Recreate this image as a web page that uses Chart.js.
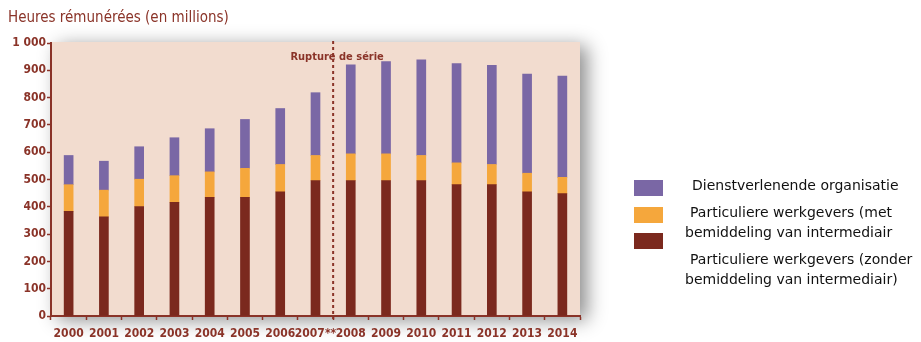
<!DOCTYPE html>
<html>
<head>
<meta charset="utf-8">
<script src="https://cdn.jsdelivr.net/npm/chart.js@4"></script>
<style>
  html, body { margin: 0; padding: 0; background: #fff; }
  #wrap { width: 921px; height: 342px; position: relative; }
</style>
</head>
<body>
<div id="wrap"><canvas id="myChart" width="921" height="342"></canvas></div>
<script>
const ctx = document.getElementById('myChart')

const years = ['2000', '2001', '2002', '2003', '2004', '2005', '2006', '2007**', '2008', '2009', '2010', '2011', '2012', '2013', '2014']
const zonderData = [383, 363, 401, 416, 435, 435, 455, 496, 496, 496, 496, 481, 481, 455, 448]
const metData = [98, 98, 100, 98, 93, 106, 100, 92, 98, 98, 92, 80, 74, 68, 60]
const dienstData = [107, 106, 119, 139, 158, 179, 205, 230, 326, 338, 350, 364, 363, 363, 371]
const yTicks = [0, 100, 200, 300, 400, 500, 600, 700, 800, 900, 1000]

const titleText = 'Heures rémunérées (en millions)'
const breakText = 'Rupture de série'
const breakAfter = 7  // index of 2007**

const red = '#8a3328'
const narrow = "'DejaVu Sans Condensed', sans-serif"

// beige plot area with a soft drop shadow, title, series break and legend
const decor = {
    id: 'decor',
    beforeDraw(chart) {
        const {ctx, chartArea: a} = chart
        ctx.save()
        ctx.shadowColor = 'rgba(0,0,0,0.45)'
        ctx.shadowBlur = 18
        ctx.shadowOffsetX = 7
        ctx.shadowOffsetY = 4
        ctx.fillStyle = '#f2dccf'
        ctx.fillRect(a.left, a.top - 1, a.right - a.left, a.bottom - a.top + 1)
        ctx.restore()

        ctx.save()
        ctx.fillStyle = red
        ctx.font = `15px ${narrow}`
        ctx.textBaseline = 'middle'
        ctx.fillText(titleText, 8, 18)
        ctx.restore()
    },
    afterDatasetsDraw(chart) {
        const {ctx, chartArea: a, scales: {x}} = chart
        const bx = x.getPixelForValue(breakAfter + 0.5)
        ctx.save()
        ctx.strokeStyle = red
        ctx.lineWidth = 2
        ctx.setLineDash([3, 3])
        ctx.beginPath()
        ctx.moveTo(bx, a.top - 2)
        ctx.lineTo(bx, a.bottom + 3)
        ctx.stroke()
        ctx.setLineDash([])
        ctx.fillStyle = red
        ctx.font = `bold 11px ${narrow}`
        ctx.textAlign = 'center'
        ctx.textBaseline = 'middle'
        ctx.fillText(breakText, bx + 4, 57)
        ctx.restore()
    },
    afterDraw(chart) {
        const {ctx} = chart
        const items = chart.data.datasets.slice().reverse()
        const boxY = [180, 207, 233]
        ctx.save()
        items.forEach((ds, i) => {
            ctx.fillStyle = ds.backgroundColor
            ctx.fillRect(634, boxY[i], 29, 16)
        })
        ctx.fillStyle = '#111'
        ctx.font = "14px 'DejaVu Sans', sans-serif"
        ctx.textBaseline = 'middle'
        const lines = [
            [items[0].legendLines[0], 692, 186],
            [items[1].legendLines[0], 690, 213],
            [items[1].legendLines[1], 685, 233],
            [items[2].legendLines[0], 690, 260],
            [items[2].legendLines[1], 685, 280]
        ]
        lines.forEach(([t, lx, ly]) => ctx.fillText(t, lx, ly))
        ctx.restore()
    }
}

new Chart(ctx, {
    type: 'bar',
    data: {
        labels: years,
        datasets: [
            {
                label: 'Particuliere werkgevers (zonder bemiddeling van intermediair)',
                legendLines: ['Particuliere werkgevers (zonder', 'bemiddeling van intermediair)'],
                data: zonderData,
                backgroundColor: '#7b291e'
            },
            {
                label: 'Particuliere werkgevers (met bemiddeling van intermediair',
                legendLines: ['Particuliere werkgevers (met', 'bemiddeling van intermediair'],
                data: metData,
                backgroundColor: '#f5a73c'
            },
            {
                label: 'Dienstverlenende organisatie',
                legendLines: ['Dienstverlenende organisatie'],
                data: dienstData,
                backgroundColor: '#7a67a5'
            }
        ]
    },
    options: {
        responsive: false,
        animation: false,
        layout: { padding: { left: 0, top: 43, right: 341, bottom: 0 } },
        datasets: { bar: { barThickness: 9 } },
        plugins: {
            legend: { display: false },
            tooltip: { enabled: false }
        },
        scales: {
            x: {
                stacked: true,
                afterFit: s => { s.height = 26 },
                border: { color: red, width: 2 },
                grid: { offset: true, drawOnChartArea: false, tickLength: 4, color: red, tickWidth: 1.5 },
                ticks: { color: red, font: { family: narrow, size: 12, weight: 'bold' }, padding: 7, maxRotation: 0, autoSkip: false }
            },
            y: {
                stacked: true,
                min: 0,
                max: 1000,
                afterFit: s => { s.width = 51 },
                afterBuildTicks: s => { s.ticks = yTicks.map(v => ({ value: v })) },
                border: { color: red, width: 2 },
                grid: { drawOnChartArea: false, tickLength: 4, color: red, tickWidth: 1.5 },
                ticks: {
                    color: red,
                    padding: 1,
                    font: { family: narrow, size: 12, weight: 'bold' },
                    callback: v => v === 1000 ? '1 000' : String(v)
                }
            }
        }
    },
    plugins: [decor]
})
</script>
</body>
</html>
